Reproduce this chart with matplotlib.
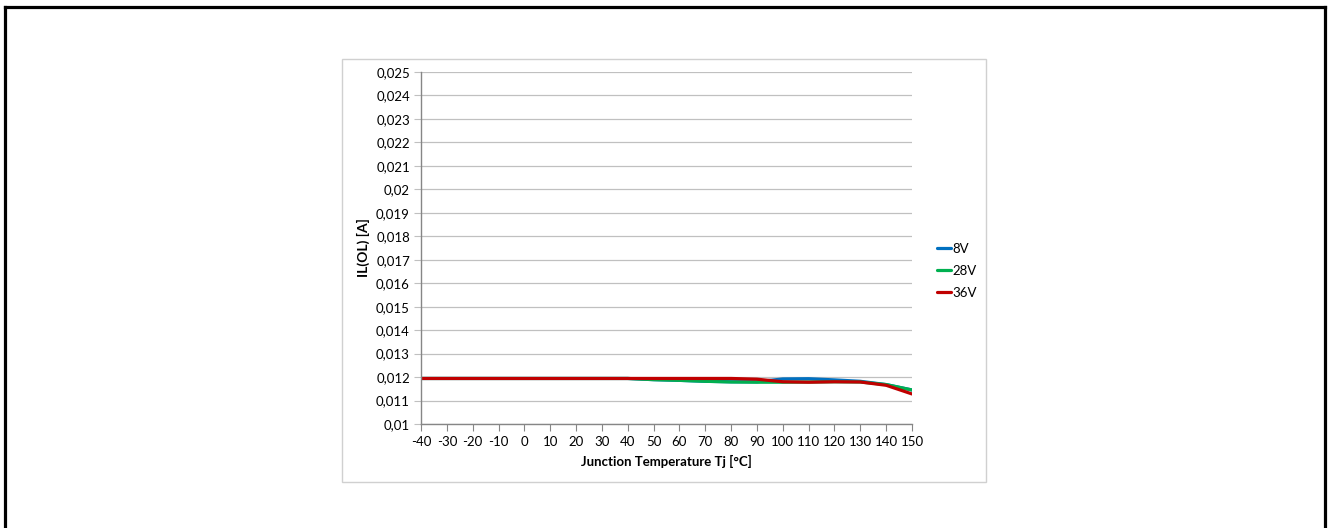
import matplotlib
matplotlib.use("Agg")
import matplotlib.pyplot as plt
from matplotlib.lines import Line2D
from matplotlib.patches import Rectangle

temps = [-40, -30, -20, -10, 0, 10, 20, 30, 40, 50, 60, 70, 80, 90, 100, 110, 120, 130, 140, 150]
v8 = [0.01194, 0.01194, 0.01194, 0.01194, 0.01194, 0.01194, 0.01194, 0.01194, 0.01194, 0.01189,
      0.01186, 0.01182, 0.01180, 0.01180, 0.01192, 0.01193, 0.01188, 0.01182, 0.01168, 0.01145]
v28 = [0.01194, 0.01194, 0.01194, 0.01194, 0.01194, 0.01194, 0.01194, 0.01194, 0.01194, 0.01189,
       0.01186, 0.01182, 0.01179, 0.01178, 0.01178, 0.01179, 0.01180, 0.01179, 0.01168, 0.01145]
v36 = [0.01194, 0.01194, 0.01194, 0.01194, 0.01194, 0.01194, 0.01194, 0.01194, 0.01194, 0.01194,
       0.01194, 0.01194, 0.01194, 0.01191, 0.01180, 0.01178, 0.01180, 0.01179, 0.01165, 0.01128]
series_names = ["8V", "28V", "36V"]
colors = ["#0070c0", "#00b050", "#c00000"]
yticks = [0.010 + 0.001 * i for i in range(16)]
ytick_labels = ["0,01", "0,011", "0,012", "0,013", "0,014", "0,015", "0,016", "0,017", "0,018",
                "0,019", "0,02", "0,021", "0,022", "0,023", "0,024", "0,025"]

W, H = 1328, 528
fig = plt.figure(figsize=(W / 100, H / 100), dpi=100)
plt.rcParams['font.family'] = ['Lato', 'DejaVu Sans']

def fx(px):
    return px / W

def fy(py):
    return 1 - py / H

# outer black border (top, left, right)
for xs, ys in [([4.5, 1324.5], [6.5, 6.5]), ([4.5, 4.5], [6.5, 540]), ([1324.5, 1324.5], [6.5, 540])]:
    fig.add_artist(Line2D([fx(x) for x in xs], [fy(y) for y in ys], color="black", lw=2.3,
                          solid_capstyle="projecting"))
# inner chart box
fig.add_artist(Rectangle((fx(342), fy(482)), fx(986) - fx(342), fy(59) - fy(482),
                         fill=False, edgecolor="#d0d0d0", lw=1))

ax = fig.add_axes([fx(421), fy(424), fx(912) - fx(421), fy(72) - fy(424)])
xpos = list(range(len(temps)))
for vals, name, c in zip([v8, v28, v36], series_names, colors):
    ax.plot(xpos, vals, color=c, lw=2.3, label=name, solid_joinstyle="round", solid_capstyle="round")

ax.set_xlim(0, len(temps) - 1)
ax.set_ylim(0.010, 0.025)
ax.set_yticks(yticks)
ax.set_yticklabels(ytick_labels)
ax.set_xticks(xpos)
ax.set_xticklabels([str(t) for t in temps])
ax.yaxis.grid(True, color="#c0c0c0", lw=0.9)
ax.set_axisbelow(True)
for s in ["top", "right"]:
    ax.spines[s].set_visible(False)
for s in ["left", "bottom"]:
    ax.spines[s].set_color("#868686")
    ax.spines[s].set_linewidth(1)
ax.tick_params(axis="y", length=5, color="#c0c0c0", labelsize=9.5, pad=3)
ax.tick_params(axis="x", length=5, color="#868686", labelsize=9.5, pad=4)
ax.set_xlabel("Junction Temperature Tj [°C]", fontsize=9.5, fontweight="bold", labelpad=5)
ax.set_ylabel("IL(OL) [A]", fontsize=10, fontweight="bold", labelpad=4)

ax.legend(loc="upper left", bbox_to_anchor=(1.04, 0.53), frameon=False, fontsize=9.5,
          handlelength=1.1, handletextpad=0.1, labelspacing=0.75, borderaxespad=0)

fig.savefig("out.png", dpi=100)
